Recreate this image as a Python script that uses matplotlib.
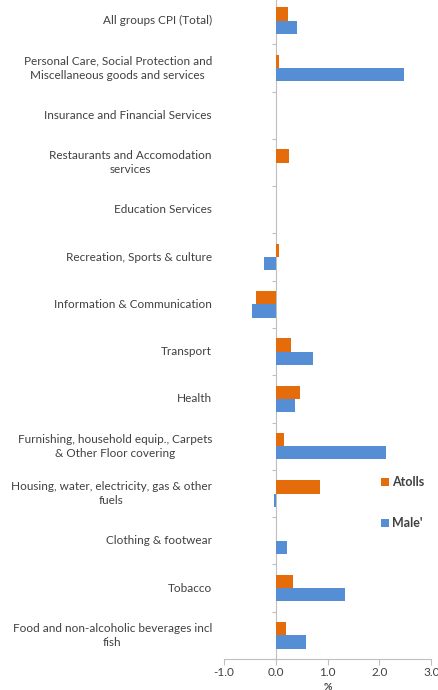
import matplotlib
matplotlib.use('Agg')
import matplotlib.pyplot as plt
import matplotlib.transforms as mtransforms
import numpy as np

plt.rcParams['font.family'] = ['Lato', 'DejaVu Sans']

# categories from bottom to top
categories = [
    "Food and non-alcoholic beverages incl\nfish",
    "Tobacco",
    "Clothing & footwear",
    "Housing, water, electricity, gas & other\nfuels",
    "Furnishing, household equip., Carpets\n& Other Floor covering",
    "Health",
    "Transport",
    "Information & Communication",
    "Recreation, Sports & culture",
    "Education Services",
    "Restaurants and Accomodation\nservices",
    "Insurance and Financial Services",
    "Personal Care, Social Protection and\nMiscellaneous goods and services",
    "All groups CPI (Total)",
]
atolls = [0.20, 0.34, 0.0, 0.85, 0.15, 0.46, 0.29, -0.39, 0.06, 0.0, 0.25, 0.0, 0.06, 0.24]
male = [0.59, 1.34, 0.22, -0.03, 2.12, 0.37, 0.71, -0.46, -0.23, 0.0, 0.0, 0.0, 2.48, 0.41]
xticks = [-1.0, 0.0, 1.0, 2.0, 3.0]

orange = '#E46C0A'
blue = '#558ED5'
grey = '#BFBFBF'

fig = plt.figure(figsize=(4.39, 6.90), dpi=100)
ax = fig.add_axes([224 / 439, 31 / 690, 207.3 / 439, 662 / 690])

y = np.arange(len(categories))
h = 0.28
ax.barh(y + h / 2, atolls, height=h, color=orange, label='Atolls', zorder=3)
ax.barh(y - h / 2, male, height=h, color=blue, label="Male'", zorder=3)

ax.set_xlim(-1.0, 3.0)
ax.set_ylim(-0.5, len(categories) - 0.5)
ax.set_xticks(xticks)
ax.set_xticklabels([f"{v:.1f}" for v in xticks], fontsize=8.5, color='#404040')
ax.set_xlabel('%', fontsize=7.5, fontweight='bold', color='#404040', labelpad=3)

for s in ['top', 'right']:
    ax.spines[s].set_visible(False)
ax.spines['left'].set_position(('data', 0))
ax.spines['left'].set_color(grey)
ax.spines['bottom'].set_color(grey)
ax.set_yticks(np.arange(len(categories) + 1) - 0.5)
ax.set_yticklabels([])
ax.tick_params(axis='y', length=3, color=grey, direction='out')
ax.tick_params(axis='x', length=4, color=grey, direction='out', pad=2)

trans = mtransforms.blended_transform_factory(ax.transAxes, ax.transData)
for yi, lab in zip(y, categories):
    ax.text(-0.058, yi, lab, transform=trans, ha='right', va='center',
            multialignment='center', fontsize=8.5, color='#404040',
            linespacing=1.35)

leg = ax.legend(loc='center left', bbox_to_anchor=(0.704, 0.236), frameon=False,
                handlelength=0.65, handleheight=0.65, handletextpad=0.25,
                borderpad=0.4, labelspacing=2.3,
                prop={'size': 9, 'weight': 'bold'})
for t in leg.get_texts():
    t.set_color('#404040')

fig.savefig('out.png', dpi=100)
